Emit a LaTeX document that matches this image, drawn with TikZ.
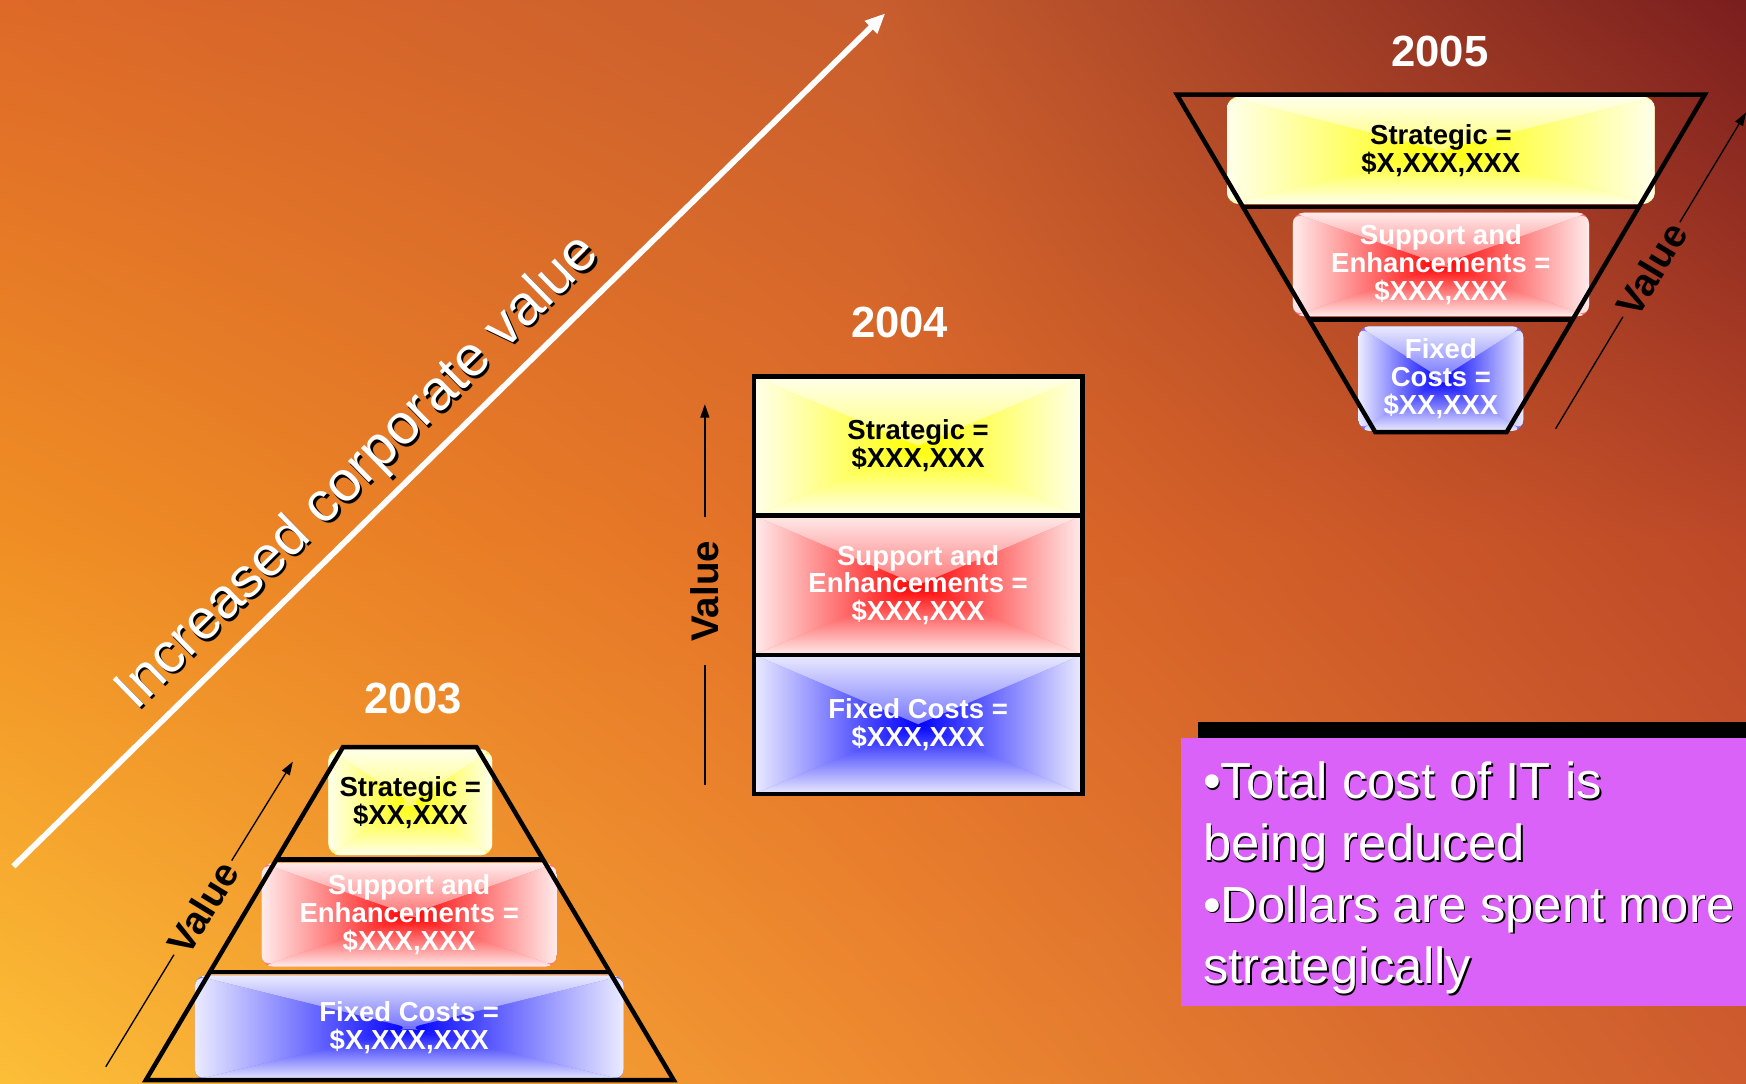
\documentclass[tikz,border=0pt]{standalone}
\usepackage{fontspec}
\setmainfont{Liberation Sans}
\usetikzlibrary{arrows.meta,shadings}

\definecolor{cTL}{RGB}{222,105,40}
\definecolor{cTM}{RGB}{200,94,46}
\definecolor{cTR}{RGB}{122,30,30}
\definecolor{cML}{RGB}{240,143,36}
\definecolor{cC}{RGB}{226,110,40}
\definecolor{cMR}{RGB}{188,72,40}
\definecolor{cBL}{RGB}{252,190,55}
\definecolor{cBM}{RGB}{238,138,48}
\definecolor{cBR}{RGB}{206,92,46}
\definecolor{panel}{RGB}{218,98,248}

\newcommand\boxfont{\bfseries\fontsize{12.35}{12.5}\selectfont}

\tikzset{
  % fades from the centre to all four edges
  grad/.style={path picture={
    \shade[top color=#1!8!white,bottom color=#1] (path picture bounding box.north west) -- (path picture bounding box.north east) -- (path picture bounding box.center) -- cycle;
    \shade[bottom color=#1!8!white,top color=#1] (path picture bounding box.south west) -- (path picture bounding box.south east) -- (path picture bounding box.center) -- cycle;
    \shade[left color=#1!8!white,right color=#1] (path picture bounding box.north west) -- (path picture bounding box.south west) -- (path picture bounding box.center) -- cycle;
    \shade[right color=#1!8!white,left color=#1] (path picture bounding box.north east) -- (path picture bounding box.south east) -- (path picture bounding box.center) -- cycle;
  }},
  boxsize/.style 2 args={minimum width=#1*0.5pt,minimum height=#2*0.5pt}
}

\begin{document}
\begin{tikzpicture}[x=0.5pt,y=-0.5pt,
    block/.style={grad=#1,fill=#1!55!white,rounded corners=5pt,inner sep=0pt,align=center,text=black,font=\boxfont},
    year/.style={text=white,font=\bfseries\fontsize{19.6}{19.6}\selectfont},
    frame/.style={line width=2pt,line join=miter},
    valtxt/.style={font=\bfseries\fontsize{17.3}{17.3}\selectfont,inner sep=2pt},
    vline/.style={line width=0.6pt},
    varw/.style={line width=0.6pt,-{Triangle[length=6pt,width=4pt]}},
    bigarw/.style={white,line width=2.6pt,-{Triangle[length=9pt,width=7.5pt]}},
    slogan/.style={font=\fontsize{25.3}{25.3}\selectfont,rotate=44.4,inner sep=0pt},
    notes/.style={font=\fontsize{22.8}{27.7}\selectfont,align=left,anchor=north west,inner sep=0pt}]
  \useasboundingbox (0,0) rectangle (1568,973);
  % background in four patches
  \shade[upper left=cTL,upper right=cTM,lower left=cML,lower right=cC] (0,0) rectangle (785,487);
  \shade[upper left=cTM,upper right=cTR,lower left=cC,lower right=cMR] (784,0) rectangle (1568,487);
  \shade[upper left=cML,upper right=cC,lower left=cBL,lower right=cBM] (0,486) rectangle (785,973);
  \shade[upper left=cC,upper right=cMR,lower left=cBM,lower right=cBR] (784,486) rectangle (1568,973);

  % rising corporate value
  \coordinate (risetail) at (12,778);
  \coordinate (risetip) at (795,12);
  \draw[bigarw] (risetail) -- (risetip);
  \node[slogan,text=black] (sloganshadow) at (324,427) {Increased corporate value};
  \node[slogan,text=white] (slogan) at (322,425) {Increased corporate value};

  % 2003 pyramid
  \node[year] (y2003) at (371,627) {2003};
  \node[block=yellow,boxsize={147}{95}] (strat03) at (368.5,720.5) {Strategic =\\\$XX,XXX};
  \node[block=red,boxsize={265}{93},text=white] (supp03) at (367.5,821.5) {Support and\\Enhancements =\\\$XXX,XXX};
  \node[block=blue,boxsize={385}{94},text=white] (fix03) at (367.5,923) {Fixed Costs =\\\$X,XXX,XXX};
  \draw[frame] (308,671) -- (428,671) -- (605,970) -- (131,970) -- cycle;
  \draw[frame] (248,772) -- (488,772);
  \draw[frame] (188,873) -- (548,873);
  \coordinate (v03a) at (95,958);
  \coordinate (v03b) at (263,684);
  \node[valtxt,rotate=58.5] (val03) at (182,815) {Value};
  \draw[vline] (v03a) -- (val03);
  \draw[varw] (val03) -- (v03b);

  % 2004 stack
  \node[year] (y2004) at (808,290) {2004};
  \node[block=yellow,sharp corners,boxsize={295}{125}] (strat04) at (824.5,400.5) {Strategic =\\\$XXX,XXX};
  \node[block=red,sharp corners,boxsize={295}{125},text=white] (supp04) at (824.5,525.5) {Support and\\Enhancements =\\\$XXX,XXX};
  \node[block=blue,sharp corners,boxsize={295}{125},text=white] (fix04) at (824.5,650.5) {Fixed Costs =\\\$XXX,XXX};
  \draw[frame] (677,338) rectangle (972,713);
  \draw[frame] (677,463) -- (972,463);
  \draw[frame] (677,588) -- (972,588);
  \coordinate (v04a) at (633,705);
  \coordinate (v04b) at (633,363);
  \node[valtxt,rotate=90,inner xsep=10.5pt] (val04) at (633,531) {Value};
  \draw[vline] (v04a) -- (val04);
  \draw[varw] (val04) -- (v04b);

  % 2005 funnel
  \node[year] (y2005) at (1293,46) {2005};
  \node[block=yellow,boxsize={384}{96}] (strat05) at (1294,135) {Strategic =\\\$X,XXX,XXX};
  \node[block=red,boxsize={266}{93},text=white] (supp05) at (1294,237.5) {Support and\\Enhancements =\\\$XXX,XXX};
  \node[block=blue,boxsize={148}{94},text=white] (fix05) at (1294,340) {Fixed\\Costs =\\\$XX,XXX};
  \draw[frame] (1057,85) -- (1531,85) -- (1353,388) -- (1235,388) -- cycle;
  \draw[frame] (1116,186) -- (1472,186);
  \draw[frame] (1176,287) -- (1412,287);
  \coordinate (v05a) at (1397,385);
  \coordinate (v05b) at (1568,101);
  \node[valtxt,rotate=59] (val05) at (1483,242) {Value};
  \draw[vline] (v05a) -- (val05);
  \draw[varw] (val05) -- (v05b);

  % summary panel
  \fill[black] (1076,648) rectangle (1590,888);
  \fill[panel] (1061,663) rectangle (1590,903);
  \node[notes,text=black] (notesshadow) at (1081.5,685.5) {•Total cost of IT is\\being reduced\\•Dollars are spent more\\strategically};
  \node[notes,text=white] (notes) at (1080,684) {•Total cost of IT is\\being reduced\\•Dollars are spent more\\strategically};
\end{tikzpicture}
\end{document}
